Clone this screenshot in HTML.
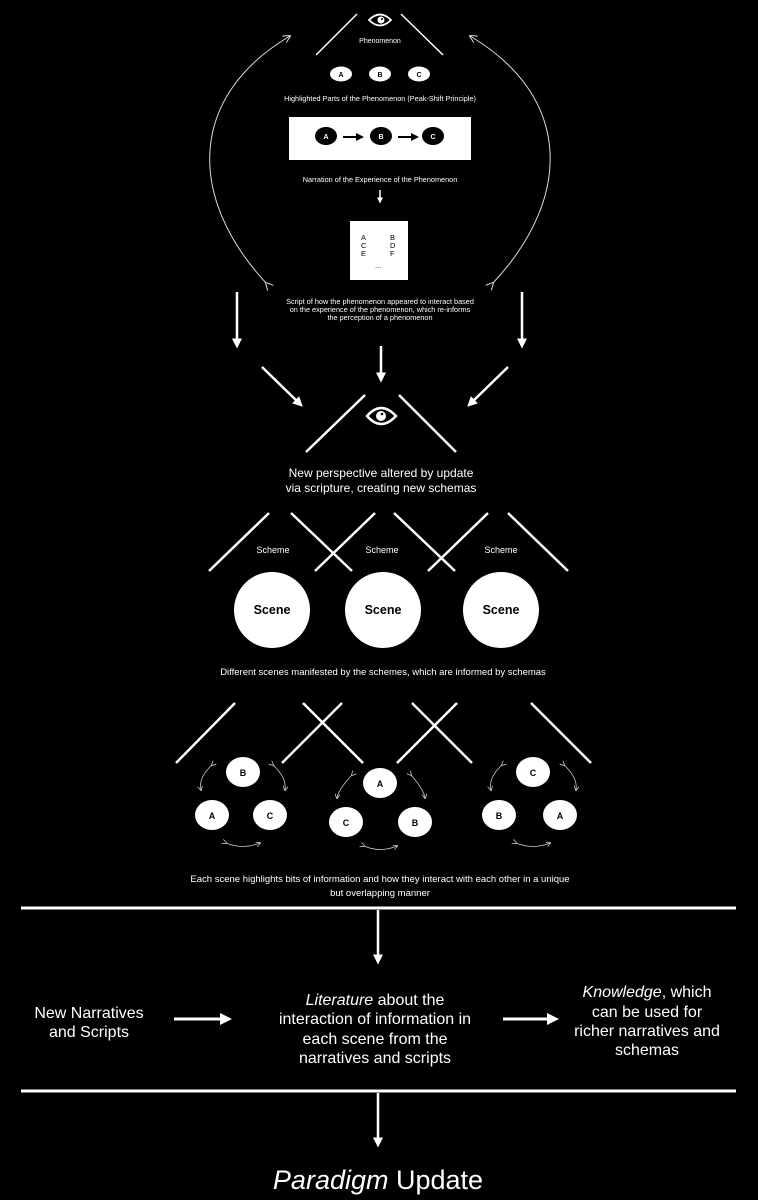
<!DOCTYPE html>
<html><head><meta charset="utf-8"><style>
html,body{margin:0;padding:0;background:#000;}
svg{display:block;font-family:"Liberation Sans",sans-serif;}
</style></head><body>
<svg width="758" height="1200" viewBox="0 0 758 1200" xmlns="http://www.w3.org/2000/svg">
<defs>
<marker id="ah" markerWidth="4" markerHeight="4" refX="3" refY="2" orient="auto" markerUnits="strokeWidth"><path d="M0,0 L4,2 L0,4 z" fill="#fff"/></marker>
<marker id="ahb" markerWidth="4" markerHeight="4" refX="3" refY="2" orient="auto" markerUnits="strokeWidth"><path d="M0,0 L4,2 L0,4 z" fill="#000"/></marker>
<marker id="ahs" markerWidth="8" markerHeight="8" refX="7" refY="4" orient="auto" markerUnits="userSpaceOnUse"><path d="M0,0 L8,4 L0,8" fill="none" stroke="#ddd" stroke-width="1"/></marker>
<marker id="ahm" markerWidth="5" markerHeight="5" refX="4" refY="2.5" orient="auto" markerUnits="userSpaceOnUse"><path d="M0,0 L5,2.5 L0,5" fill="none" stroke="#ccc" stroke-width="0.8"/></marker>
</defs>
<rect width="758" height="1200" fill="#000"/>
<g stroke="#fff" fill="none">
<line x1="316" y1="55" x2="357" y2="14" stroke-width="1.5"/>
<line x1="401" y1="14" x2="443" y2="55" stroke-width="1.5"/>
<path d="M369,20 Q380,9 391,20 Q380,31 369,20 z" stroke-width="1.8"/>
</g>
<circle cx="381" cy="20" r="3.5" fill="#fff"/>
<circle cx="382" cy="19" r="1" fill="#000"/>
<text x="380" y="43" font-size="7" fill="#fff" text-anchor="middle">Phenomenon</text>
<g fill="#fff"><ellipse cx="341" cy="74" rx="11" ry="7.5"/><ellipse cx="380" cy="74" rx="11" ry="7.5"/><ellipse cx="419" cy="74" rx="11" ry="7.5"/></g>
<g font-size="7" font-weight="bold" text-anchor="middle" fill="#000"><text x="341" y="77">A</text><text x="380" y="77">B</text><text x="419" y="77">C</text></g>
<text x="380" y="101" font-size="7.3" fill="#fff" text-anchor="middle">Highlighted Parts of the Phenomenon (Peak-Shift Principle)</text>
<rect x="289" y="117" width="182" height="43" fill="#fff"/>
<g fill="#000"><ellipse cx="326" cy="136" rx="11" ry="9"/><ellipse cx="381" cy="136" rx="11" ry="9"/><ellipse cx="433" cy="136" rx="11" ry="9"/></g>
<g font-size="7" font-weight="bold" text-anchor="middle" fill="#fff"><text x="326" y="139">A</text><text x="381" y="139">B</text><text x="433" y="139">C</text></g>
<g stroke="#000" stroke-width="2"><line x1="343" y1="137" x2="362" y2="137" marker-end="url(#ahb)"/><line x1="398" y1="137" x2="417" y2="137" marker-end="url(#ahb)"/></g>
<text x="380" y="182" font-size="7.3" fill="#fff" text-anchor="middle">Narration of the Experience of the Phenomenon</text>
<line x1="380" y1="190" x2="380" y2="202" stroke="#fff" stroke-width="1.5" marker-end="url(#ah)"/>
<rect x="350" y="221" width="58" height="59" fill="#fff"/>
<g font-size="7.5" fill="#000"><text x="361" y="240">A</text><text x="361" y="248">C</text><text x="361" y="256">E</text><text x="390" y="240">B</text><text x="390" y="248">D</text><text x="390" y="256">F</text><text x="375" y="268">...</text></g>
<g font-size="7.3" fill="#fff" text-anchor="middle"><text x="380" y="304">Script of how the phenomenon appeared to interact based</text><text x="380" y="312">on the experience of the phenomenon, which re-informs</text><text x="380" y="320">the perception of a phenomenon</text></g>
<path d="M266,283 C185,195 190,95 290,36" stroke="#ddd" stroke-width="1" fill="none" marker-start="url(#ahs)" marker-end="url(#ahs)"/>
<path d="M493,283 C575,195 570,95 470,36" stroke="#ddd" stroke-width="1" fill="none" marker-start="url(#ahs)" marker-end="url(#ahs)"/>
<g stroke="#fff" stroke-width="2.5">
<line x1="237" y1="292" x2="237" y2="346" marker-end="url(#ah)"/>
<line x1="522" y1="292" x2="522" y2="346" marker-end="url(#ah)"/>
<line x1="381" y1="346" x2="381" y2="380" marker-end="url(#ah)"/>
<line x1="262" y1="367" x2="301" y2="405" marker-end="url(#ah)"/>
<line x1="508" y1="367" x2="469" y2="405" marker-end="url(#ah)"/>
</g>
<g stroke="#fff" fill="none">
<line x1="306" y1="452" x2="365" y2="395" stroke-width="2.5"/>
<line x1="399" y1="395" x2="456" y2="452" stroke-width="2.5"/>
<path d="M367,416 Q381,400 396,416 Q381,432 367,416 z" stroke-width="2.5"/>
</g>
<circle cx="381" cy="416" r="5" fill="#fff"/><circle cx="382" cy="414" r="1.3" fill="#000"/>
<g font-size="12" fill="#fff" text-anchor="middle"><text x="381" y="477">New perspective altered by update</text><text x="381" y="492">via scripture, creating new schemas</text></g>
<g stroke="#fff" stroke-width="2.5">
<line x1="209" y1="571" x2="269" y2="513"/><line x1="291" y1="513" x2="352" y2="571"/>
<line x1="315" y1="571" x2="375" y2="513"/><line x1="394" y1="513" x2="455" y2="571"/>
<line x1="428" y1="571" x2="488" y2="513"/><line x1="508" y1="513" x2="568" y2="571"/>
</g>
<g font-size="9" fill="#fff" text-anchor="middle"><text x="273" y="553">Scheme</text><text x="382" y="553">Scheme</text><text x="501" y="553">Scheme</text></g>
<g fill="#fff"><circle cx="272" cy="610" r="38"/><circle cx="383" cy="610" r="38"/><circle cx="501" cy="610" r="38"/></g>
<g font-size="12.5" font-weight="bold" fill="#000" text-anchor="middle"><text x="272" y="614">Scene</text><text x="383" y="614">Scene</text><text x="501" y="614">Scene</text></g>
<text x="383" y="675" font-size="9.5" fill="#fff" text-anchor="middle">Different scenes manifested by the schemes, which are informed by schemas</text>
<g stroke="#fff" stroke-width="2.5">
<line x1="176" y1="763" x2="235" y2="703"/>
<line x1="303" y1="703" x2="363" y2="763"/><line x1="282" y1="763" x2="342" y2="703"/>
<line x1="412" y1="703" x2="472" y2="763"/><line x1="397" y1="763" x2="457" y2="703"/>
<line x1="531" y1="703" x2="591" y2="763"/>
</g>
<g fill="#fff">
<ellipse cx="243" cy="772" rx="17" ry="15"/><ellipse cx="212" cy="815" rx="17" ry="15"/><ellipse cx="270" cy="815" rx="17" ry="15"/>
<ellipse cx="380" cy="783" rx="17" ry="15"/><ellipse cx="346" cy="822" rx="17" ry="15"/><ellipse cx="415" cy="822" rx="17" ry="15"/>
<ellipse cx="533" cy="772" rx="17" ry="15"/><ellipse cx="499" cy="815" rx="17" ry="15"/><ellipse cx="560" cy="815" rx="17" ry="15"/>
</g>
<g font-size="9" font-weight="bold" fill="#000" text-anchor="middle">
<text x="243" y="776">B</text><text x="212" y="819">A</text><text x="270" y="819">C</text>
<text x="380" y="787">A</text><text x="346" y="826">C</text><text x="415" y="826">B</text>
<text x="533" y="776">C</text><text x="499" y="819">B</text><text x="560" y="819">A</text>
</g>
<g stroke="#ccc" stroke-width="0.8" fill="none" marker-start="url(#ahm)" marker-end="url(#ahm)">
<path d="M212,765 Q198,778 201,790"/><path d="M273,765 Q287,778 285,790"/><path d="M226,843 Q243,850 260,843"/>
<path d="M352,775 Q338,790 337,798"/><path d="M411,775 Q424,790 425,798"/><path d="M364,846 Q380,853 397,846"/>
<path d="M502,765 Q488,778 491,790"/><path d="M564,765 Q578,778 576,790"/><path d="M516,843 Q533,850 550,843"/>
</g>
<g font-size="9.5" fill="#fff" text-anchor="middle"><text x="380" y="882">Each scene highlights bits of information and how they interact with each other in a unique</text><text x="380" y="896">but overlapping manner</text></g>
<g stroke="#fff" stroke-width="3">
<line x1="21" y1="908" x2="736" y2="908"/>
<line x1="21" y1="1091" x2="736" y2="1091"/>
</g>
<g stroke="#fff" stroke-width="2.5">
<line x1="378" y1="910" x2="378" y2="962" marker-end="url(#ah)"/>
<line x1="378" y1="1093" x2="378" y2="1145" marker-end="url(#ah)"/>
<line x1="174" y1="1019" x2="229" y2="1019" stroke-width="3" marker-end="url(#ah)"/>
<line x1="503" y1="1019" x2="556" y2="1019" stroke-width="3" marker-end="url(#ah)"/>
</g>
<g font-size="16" fill="#fff" text-anchor="middle">
<text x="89" y="1018">New Narratives</text><text x="89" y="1037">and Scripts</text>
<text x="375" y="1005"><tspan font-style="italic">Literature</tspan> about the</text>
<text x="375" y="1024">interaction of information in</text>
<text x="375" y="1044">each scene from the</text>
<text x="375" y="1063">narratives and scripts</text>
<text x="647" y="997"><tspan font-style="italic">Knowledge</tspan>, which</text>
<text x="647" y="1017">can be used for</text>
<text x="647" y="1036">richer narratives and</text>
<text x="647" y="1055">schemas</text>
</g>
<text x="378" y="1189" font-size="27" fill="#fff" text-anchor="middle"><tspan font-style="italic">Paradigm</tspan> Update</text>
</svg>
</body></html>
